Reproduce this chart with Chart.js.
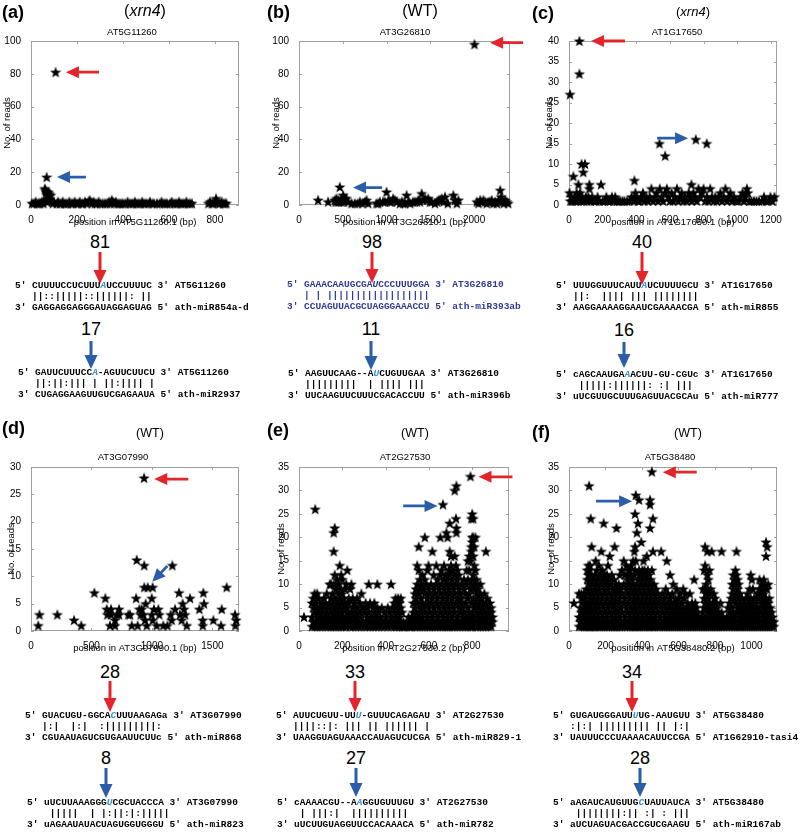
<!DOCTYPE html>
<html><head><meta charset="utf-8">
<script src="https://cdn.jsdelivr.net/npm/chart.js@4.4.1/dist/chart.umd.min.js"></script>
<style>
body{margin:0;background:#fff;}
#root{position:relative;width:800px;height:833px;overflow:hidden;font-family:"Liberation Sans",Arial,sans-serif;color:#000;}
canvas{position:absolute;}
.t{position:absolute;white-space:pre;line-height:1;}
.al{font-family:"Liberation Mono","Courier New",monospace;font-weight:bold;font-size:9.5px;will-change:transform;}
.h{color:#3d8fd6;font-style:italic;}
#arrows{position:absolute;left:0;top:0;}
</style></head>
<body><div id="root"><svg id="arrows" width="800" height="833"></svg></div>
<script>
// ---------------- DATA ----------------
// [position (bp), no. of reads]
const readsA = [[4,1],[12,1],[20,2],[27,1],[34,1],[41,1],[48,2],[54,1],[57,3],[60,10],[63,9],[66,8],[68,17],[70,6],[72,2],[75,8],[77,4],[80,7],[83,3],[86,6],[90,2],[95,1],[100,2],[107,81],[112,1],[118,2],[125,1],[131,1],[138,2],[145,1],[152,1],[160,1],[167,2],[175,1],[182,1],[190,2],[197,1],[205,1],[212,2],[220,1],[227,1],[235,2],[242,1],[250,2],[255,3],[260,2],[266,1],[272,2],[279,1],[286,1],[294,2],[302,1],[312,1],[322,1],[332,1],[340,2],[346,1],[351,3],[356,2],[362,1],[369,2],[376,1],[384,1],[392,1],[400,1],[410,1],[420,2],[428,1],[436,1],[444,1],[452,2],[460,1],[468,1],[476,1],[484,2],[492,1],[500,1],[510,1],[518,2],[528,1],[536,1],[548,1],[560,1],[568,2],[576,1],[584,1],[592,1],[604,1],[612,2],[620,1],[628,1],[636,1],[644,2],[652,1],[660,1],[668,1],[676,2],[684,1],[692,1],[700,1],[772,1],[779,2],[786,1],[793,1],[800,2],[805,4],[809,2],[815,1],[822,1],[829,2],[836,1],[843,1],[850,1]];
const readsB = [[218,3],[332,2],[408,3],[418,2],[427,4],[440,2],[447,3],[458,2],[466,11],[476,3],[485,2],[495,3],[504,6],[515,2],[523,4],[542,4],[560,2],[600,1],[637,1],[670,1],[695,2],[725,1],[752,2],[771,3],[790,1],[885,1],[905,1],[924,2],[960,2],[981,2],[1000,8],[1020,3],[1040,2],[1057,2],[1075,4],[1095,3],[1118,2],[1153,1],[1175,2],[1190,1],[1210,1],[1229,6],[1248,2],[1270,1],[1300,2],[1324,2],[1345,2],[1363,3],[1380,2],[1401,7],[1420,3],[1440,4],[1458,3],[1477,4],[1496,2],[1515,2],[1553,1],[1575,2],[1595,3],[1611,3],[1630,4],[1650,2],[1668,5],[1700,1],[1763,6],[1782,3],[1802,1],[1821,3],[2004,98],[2031,2],[2050,1],[2069,3],[2088,2],[2107,3],[2126,2],[2145,1],[2164,2],[2183,2],[2202,3],[2221,1],[2240,2],[2260,1],[2279,3],[2298,9],[2310,5],[2317,3],[2324,2],[2340,1],[2355,3],[2374,2],[2390,1]];
const readsC = [[6,27],[62,40],[62,32],[26,7],[56,5],[75,10],[95,10],[85,8],[121,5],[121,4],[190,5],[389,6],[538,15],[572,12],[754,16],[819,15],[728,5],
[3,3],[8,1],[14,2],[20,1],[32,2],[40,1],[46,3],[52,1],[58,2],[66,3],[70,1],[78,2],[88,1],[100,2],[108,1],[115,2],[128,1],[138,2],[150,1],[160,1],[170,2],[180,1],[200,1],[212,1],[222,2],[232,1],[245,1],[255,2],[268,1],[275,2],[285,1],[295,1],[305,1],[318,1],[330,1],[345,1],[360,1],[372,2],[385,1],[395,3],[400,2],[410,1],[420,1],[428,2],[440,3],[448,1],[460,2],[470,1],[480,2],[490,4],[500,1],[510,2],[520,3],[530,1],[540,4],[550,2],[560,1],[570,3],[582,4],[590,2],[600,1],[610,3],[620,1],[630,2],[642,4],[650,1],[660,2],[670,3],[680,1],[690,2],[700,1],[712,3],[720,2],[730,1],[740,3],[750,2],[760,1],[770,4],[780,2],[790,3],[800,4],[810,1],[820,2],[830,1],[840,4],[850,2],[860,1],[870,2],[880,1],[890,2],[900,3],[910,1],[920,2],[930,4],[940,1],[950,2],[960,3],[970,1],[982,2],[995,1],[1008,1],[1020,2],[1032,3],[1040,1],[1048,2],[1058,4],[1064,3],[1072,1],[1085,1],[1100,1],[1115,1],[1130,1],[1148,1],[1160,2],[1172,1],[1185,1],[1198,2],[1210,1],[1222,2]];
const readsD = [[60,1],[70,3],[218,3],[356,2],[416,1],[524,7],[615,6],[626,4],[632,3],[662,4],[662,3],[653,1],[695,2],[695,1],[709,3],[728,4],[728,3],[805,3],[819,3],[833,1],[874,13],[869,6],[882,1],[896,4],[907,3],[915,4],[929,3],[936,12],[935,28],[943,2],[948,5],[957,1],[937,8],[965,8],[998,6],[1006,8],[998,3],[1006,2],[1017,4],[1039,1],[1053,4],[1061,3],[1094,1],[1128,1],[1163,2],[1155,3],[1169,12],[1191,4],[1224,7],[1232,3],[1246,2],[1254,5],[1265,4],[1274,3],[1288,1],[1315,6],[1392,4],[1425,7],[1431,5],[1420,2],[1420,1],[1508,2],[1572,1],[1577,4],[1618,8],[1687,3],[1696,2],[1690,1]];
// [position (bp), [reads at that position ...]]
const readsE = [[23,[3]],[75,[26]],[60,[1,3,6]],[66,[2,5,7]],[72,[1,4,8]],[78,[2,6]],[84,[1,3,8,5]],[90,[2,4,7]],[96,[1,5]],[102,[3,6,2]],[108,[1,4]],[115,[2,7,5]],[122,[1,3,6]],[128,[2,4,8]],[135,[1,5,3]],[142,[2,6,10]],[148,[1,4,7,10]],[155,[3,5,8,2]],[160,[1,6,10,17,21]],[165,[2,4,7,12,22]],[170,[1,3,9,5]],[176,[2,6,11]],[182,[1,4,8,10]],[188,[3,5,7,14]],[195,[1,2,6,9,12]],[200,[3,4,8,11]],[206,[1,5,7]],[212,[2,6,9]],[218,[1,3,10]],[223,[4,5,13]],[230,[2,7,6]],[236,[1,3,9]],[242,[2,4,10]],[248,[1,5,7]],[255,[3,6]],[262,[1,2,4]],[268,[3,5,7]],[275,[1,2]],[282,[4,6]],[288,[1,3,8]],[295,[2,5]],[302,[1,4]],[308,[2,6]],[315,[1,3,5]],[322,[2,4,10]],[328,[1,6]],[335,[2,3]],[342,[1,5]],[348,[2,4,6]],[355,[1,3]],[362,[2,5,10]],[368,[1,4]],[375,[2,3]],[382,[1,5]],[388,[2]],[395,[1,4]],[402,[2,3]],[410,[1,5]],[418,[2,4]],[425,[1,3,10]],[432,[2,5]],[440,[1,4,6]],[446,[2,3,7]],[452,[1,5,6]],[458,[2,4,7]],[464,[1,3,6]],[470,[2,5,7]],[476,[1,4]],[482,[1,2]],[490,[1]],[498,[2]],[506,[1,3]],[515,[1,2]],[522,[1,3]],[528,[2,4,6]],
[535,[1,3,5,8]],[540,[2,4,7,9]],[546,[1,6,10,14]],[553,[2,3,8,13,18]],[558,[1,5,9,11]],[564,[2,4,7,10]],[570,[1,3,6,12]],[575,[2,5,9]],[581,[1,4,8,11,20]],[587,[2,6,10]],[593,[1,3,7,13]],[598,[2,5,9,14]],[604,[1,4,8]],[610,[2,6,10]],[616,[1,3,7,17]],[622,[2,5,9,12]],[628,[1,4,8]],[634,[2,6,10,14]],[640,[1,3,7,11]],[646,[2,5,9]],[665,[27]],[653,[1,4,8,12,20]],[658,[2,6,10,13]],[664,[1,3,7]],[670,[2,5,9,11,14]],[676,[1,4,8,12]],[681,[2,6,10,21]],[686,[1,3,7,11,20]],[691,[2,5,9,13]],[696,[1,4,8,12,17,23]],[702,[2,6,10,14,16]],[708,[1,3,7,11,13]],[713,[2,5,9]],[719,[1,4,8,12,16,30]],[725,[2,6,10,14,24]],[727,[31,22,21]],[732,[1,3,7,11,13]],[738,[2,5,9,12]],[744,[1,4,8]],[750,[2,6,10,7]],[756,[1,3,5]],[762,[2,4,9,11]],[768,[1,6,8]],[774,[2,3,10,13]],[780,[1,5,7,11,15]],[786,[2,4,8,13,16]],[792,[1,3,9,15,33]],[796,[2,6,10,17,18,24]],[800,[1,4,11,19,20,25]],[805,[3,7,12,16,20,24]],[810,[2,5,9,14,18]],[815,[1,6,10,13,20]],[820,[2,4,8,11]],[826,[1,3,7,9]],[832,[2,5,6]],[838,[1,4,8,10]],[844,[2,3,7]],[850,[1,5,6]],[856,[2,4,8]],[863,[1,3,17,6]],[870,[2,5,7]],[876,[1,4]],[882,[2,3,6]],[888,[1,5,4]],[894,[2,3]]];
const readsF = [[27,[6]],[55,[1,3,8]],[62,[2,5]],[68,[1,4,7,8]],[75,[2,3,6]],[82,[1,5,8]],[88,[2,4,7]],[95,[1,3,6,9]],[100,[2,5,11,13]],[106,[1,4,8,12,14]],[110,[2,6,10,13,31]],[115,[1,3,7,11,14]],[119,[2,5,9,24]],[124,[1,4,8,12,18]],[130,[2,6,10]],[136,[1,3,7,11]],[142,[2,5,9,12]],[146,[1,4,8,15]],[152,[2,6,10,13]],[158,[1,3,7,11]],[164,[2,5,9,14]],[170,[1,4,8,12]],[177,[2,6,10,17]],[183,[1,3,7,11,13]],[190,[2,5,9,23]],[196,[1,4,8,12]],[202,[2,6,10,11]],[208,[1,3,7,12]],[214,[2,5,9,14]],[220,[1,4,8,11]],[223,[16]],[228,[2,6,10]],[234,[1,3,7,12]],[240,[2,5,9]],[246,[1,4,8,11]],[250,[2,6,18]],[256,[1,3,7,10]],[260,[2,5,9,22]],[266,[1,4,8]],[272,[2,6,10]],[278,[1,3,7,12]],[284,[2,5,9]],[290,[1,4,8,13]],[300,[2,6,10,15]],[306,[1,3,7,12]],[314,[2,5,9,14]],[320,[1,4,8,11]],[326,[2,6,10,13]],[333,[1,3,7,12,13]],[340,[2,5,9,14]],[346,[1,4,8,11]],[352,[2,6,10,15]],[358,[1,3,7,12,17]],[362,[2,5,9,13,18,25]],[366,[1,4,8,29,15]],[372,[2,6,10,21]],[378,[1,3,7,11,23]],[384,[2,5,9,13,28]],[390,[1,4,8,12]],[396,[2,6,10,19]],[402,[1,3,7,11,13]],[408,[2,5,9,12,15]],[414,[1,4,8,13]],[420,[2,6,10,12]],[426,[1,3,7,11,16]],[432,[2,5,9,13]],[438,[1,4,8,12]],[444,[2,6,10,22,27,28]],[448,[1,3,7,11]],[454,[2,5,9,13,34]],[460,[1,4,8,24,17]],[466,[2,6,10]],[472,[1,3,7]],[478,[2,5,9]],
[486,[1,4,8]],[492,[2,6]],[498,[1,3,7]],[505,[2,5,17]],[512,[1,4,8]],[518,[2,6]],[524,[1,3,7]],[530,[2,5,9]],[536,[1,4,15]],[542,[2,6,8]],[548,[1,3,5]],[554,[2,7,12]],[560,[1,4,6]],[566,[2,3,8]],[572,[1,5,10]],[578,[2,4,6]],[584,[1,3,7]],[590,[2,5,9]],[596,[1,4,6]],[602,[2,3,7]],[608,[1,5,8]],[614,[2,4]],[620,[1,3,6]],[626,[2,5,9]],[632,[1,4,7]],[638,[2,3,8]],[644,[1,5]],[650,[2,4,6]],[656,[1,3]],[662,[2,5,8]],[668,[1,4]],[674,[2,3,6]],[680,[1,5]],[686,[2,4,11]],[692,[1,3,6]],[698,[2,5]],[704,[1,4]],[710,[2,3]],[716,[1]],[722,[2]],[728,[1,3]],[734,[2,4,9]],[740,[1,5,7,13]],[746,[2,6,9,14,18]],[752,[1,3,8,10]],[758,[2,5,9,12,17]],[764,[1,4,7,11]],[770,[2,6,8,13]],[776,[1,3,5,9]],[782,[2,4,17]],[788,[1,3,6]],[794,[2,5,8]],[800,[1,4,7]],[806,[2,3,6]],[812,[1,5]],[818,[2,4]],[824,[1,3]],[830,[2,6]],[836,[1,4,17]],[842,[2,3]],[848,[1]],[856,[2]],[864,[1,3]],[872,[2,5]],[880,[1,4,6]],[888,[2,3,7]],[894,[1,5,8,10]],[900,[2,4,9,12]],[906,[1,3,7,11]],[912,[2,6,10,13]],[918,[1,4,8,12,17]],[924,[2,5,9,11]],[930,[1,3,7,10]],[936,[2,6,8]],[942,[1,4,5]],[948,[2,3,7]],[954,[1,5]],[960,[2,4,6]],[966,[1,3]],[972,[2,5,7]],[978,[1,4,8]],[984,[2,3,6]],[990,[1,5,9]],[996,[2,4,7,12]],[1002,[1,3,6,11]],[1008,[2,5,9]],[1014,[1,4,7]],[1020,[2,3]],[1026,[1,5,6]],[1032,[2,4,8]],[1038,[1,3,7]],[1044,[2,5,9,11]],[1050,[1,4,8]],[1056,[2,6,10]],[1062,[1,3,7,9]],[1068,[2,5,8,11]],[1074,[1,4,6,10]],[1080,[2,3,7,16,19]],[1086,[1,5,9,18]],[1092,[2,4,6,10]],[1098,[1,3,7]],[1104,[2,5]],[1110,[1,4]],[1116,[2,3]],[1122,[1,2]]];

const geneIds = ['AT5G11260','AT3G26810','AT1G17650','AT3G07990','AT2G27530','AT5G38480'];
const transcripts = ['AT5G11260.1','AT3G26810.1','AT1G17650.1','AT3G07990.1','AT2G27530.2','AT5G38480.2'];
const genotypes = ['xrn4','WT','xrn4','WT','WT','WT'];
const panelLetters = ['a','b','c','d','e','f'];
const xMaxes = [905,2410,1237,1720,970,1140];
const yMaxes = [100,100,40,30,35,35];
// tick labels
const xTicksA=[0,200,400,600,800], xTicksB=[0,500,1000,1500,2000], xTicksC=[0,200,400,600,800,1000,1200];
const xTicksD=[0,500,1000,1500], xTicksE=[0,200,400,600,800], xTicksF=[0,200,400,600,800,1000];
const yTicks100=[0,20,40,60,80,100], yTicks40=[0,5,10,15,20,25,30,35,40], yTicks30=[0,5,10,15,20,25,30], yTicks35=[0,5,10,15,20,25,30,35];
const xTickSets=[xTicksA,xTicksB,xTicksC,xTicksD,xTicksE,xTicksF];
const yTickSets=[yTicks100,yTicks100,yTicks40,yTicks30,yTicks35,yTicks35];
// highlighted peaks: [tail x, tail y, tip x, tip y]
const redArrowsData = [[296,81,152,81],[2560,99,2183,99],[333,40,131,40],[1301,27.8,1019,27.8],[986,32.9,829,32.9],[700,33.9,514,33.9]];
const blueArrowsData = [[239,17,113,17],[949,10.6,617,10.6],[524,16.3,708,16.3],[1127,11.9,1003,9.0],[481,26.7,640,26.7],[148,27.7,346,27.7]];
const peakRed = [81,98,40,28,33,34];
const peakBlue = [17,11,16,8,27,28];

// ---------------- STYLE / LAYOUT ----------------
const RED='#e3242b', BLUE='#2c5da8';
const panelsLayout = [
 {left:0,  top:0,   w:265, h:228, padTop:41, padRight:26, yW:31, yTP:2},
 {left:265,top:0,   w:265, h:228, padTop:41, padRight:20, yW:34, yTP:6},
 {left:530,top:0,   w:270, h:228, padTop:41, padRight:23, yW:39, yTP:14},
 {left:0,  top:415, w:265, h:239, padTop:52, padRight:26, yW:31, yTP:6},
 {left:265,top:415, w:265, h:239, padTop:52, padRight:21, yW:34, yTP:11},
 {left:530,top:415, w:270, h:239, padTop:52, padRight:23, yW:39, yTP:16}
];
const allReads=[readsA,readsB,readsC,readsD,readsE,readsF];

function starImage(){
  const c=document.createElement('canvas'); c.width=12; c.height=12;
  const g=c.getContext('2d'); g.fillStyle='#000'; g.beginPath();
  for(let i=0;i<10;i++){const r=i%2?2.4:5.9; const a=-Math.PI/2+i*Math.PI/5;
    const px=6+r*Math.cos(a), py=6.5+r*Math.sin(a); if(i) g.lineTo(px,py); else g.moveTo(px,py);}
  g.closePath(); g.fill(); return c;
}
const STAR=starImage();

function drawArrow(ctx,x1,y1,x2,y2,color,shaft,headL,headW){
  const dx=x2-x1, dy=y2-y1, L=Math.hypot(dx,dy), ux=dx/L, uy=dy/L, nx=-uy, ny=ux;
  const bx=x2-ux*headL, by=y2-uy*headL;
  ctx.save(); ctx.fillStyle=color; ctx.beginPath();
  ctx.moveTo(x1+nx*shaft/2,y1+ny*shaft/2); ctx.lineTo(bx+nx*shaft/2,by+ny*shaft/2);
  ctx.lineTo(bx+nx*headW/2,by+ny*headW/2); ctx.lineTo(x2,y2);
  ctx.lineTo(bx-nx*headW/2,by-ny*headW/2); ctx.lineTo(bx-nx*shaft/2,by-ny*shaft/2);
  ctx.lineTo(x1-nx*shaft/2,y1-ny*shaft/2); ctx.closePath(); ctx.fill(); ctx.restore();
}

const framePlugin={id:'frame',
  beforeDatasetsDraw(chart){
    const {ctx,chartArea:a,scales:{x,y}}=chart;
    ctx.save(); ctx.strokeStyle='#a0a0a0'; ctx.lineWidth=1;
    ctx.strokeRect(a.left+0.5,a.top+0.5,a.right-a.left-1,a.bottom-a.top-1);
    ctx.beginPath();
    x.ticks.forEach(t=>{const p=Math.round(x.getPixelForValue(t.value))+0.5;
      ctx.moveTo(p,a.bottom);ctx.lineTo(p,a.bottom-3);ctx.moveTo(p,a.top);ctx.lineTo(p,a.top+3);});
    y.ticks.forEach(t=>{const p=Math.round(y.getPixelForValue(t.value))+0.5;
      ctx.moveTo(a.left,p);ctx.lineTo(a.left+3,p);ctx.moveTo(a.right,p);ctx.lineTo(a.right-3,p);});
    ctx.stroke(); ctx.restore();
  },
  afterDatasetsDraw(chart,args,opts){
    const {ctx,scales:{x,y}}=chart;
    (opts.arrows||[]).forEach(ar=>{
      drawArrow(ctx,x.getPixelForValue(ar.d[0]),y.getPixelForValue(ar.d[1]),
        x.getPixelForValue(ar.d[2]),y.getPixelForValue(ar.d[3]),ar.c,2.8,13,12);
    });
  }
};

const root=document.getElementById('root');
const tickFont={family:'"Liberation Sans", Arial, sans-serif',size:10};
const titleFont={family:'"Liberation Sans", Arial, sans-serif',size:9.5};

panelsLayout.forEach((L,i)=>{
  const cv=document.createElement('canvas'); cv.width=L.w; cv.height=L.h;
  cv.style.left=L.left+'px'; cv.style.top=L.top+'px'; root.appendChild(cv);
  const raw=allReads[i];
  const pts=[];
  raw.forEach(r=>{ if(Array.isArray(r[1])) r[1].forEach(v=>pts.push({x:r[0],y:v})); else pts.push({x:r[0],y:r[1]}); });
  const xt=xTickSets[i], yt=yTickSets[i];
  new Chart(cv,{type:'scatter',
    data:{datasets:[{data:pts,pointStyle:STAR,pointRadius:5,clip:false}]},
    options:{responsive:false,animation:false,events:[],
      layout:{padding:{top:L.padTop,right:L.padRight,bottom:0,left:0}},
      plugins:{legend:{display:false},tooltip:{enabled:false},
        frame:{arrows:[{d:redArrowsData[i],c:RED},{d:blueArrowsData[i],c:BLUE}]}},
      scales:{
        x:{type:'linear',min:0,max:xMaxes[i],grid:{display:false},border:{display:false},
          ticks:{font:tickFont,color:'#000',padding:1,maxRotation:0,minRotation:0,autoSkip:false,callback:v=>String(v)},
          afterBuildTicks:s=>{s.ticks=xt.map(v=>({value:v}));},
          afterFit:s=>{s.height=23;},
          title:{display:true,text:'position in '+transcripts[i]+' (bp)',font:titleFont,color:'#000',padding:{top:0,bottom:0}}},
        y:{type:'linear',min:0,max:yMaxes[i],grid:{display:false},border:{display:false},
          ticks:{font:tickFont,color:'#000',padding:2,autoSkip:false,callback:v=>String(v)},
          afterBuildTicks:s=>{s.ticks=yt.map(v=>({value:v}));},
          afterFit:s=>{s.width=L.yW;},
          title:{display:true,text:'No. of reads',font:titleFont,color:'#000',padding:{top:L.yTP,bottom:0}}}
      }
    },plugins:[framePlugin]});
});

// ---------------- TEXT ----------------
function txt(html,x,y,css,center){
  const d=document.createElement('div'); d.className='t'; d.innerHTML=html;
  d.style.cssText+=css; d.style.left=x+'px'; d.style.top=y+'px';
  d.style.transform=center?'translate(-50%,-50%)':'translate(0,-50%)';
  root.appendChild(d); return d;
}
const headPos=[
 {lx:2,ly:12,gx:145,gy:11,gs:16,tx:132,ty:32},
 {lx:267,ly:12,gx:420,gy:11,gs:16,tx:405,ty:32},
 {lx:532,ly:13,gx:693,gy:11,gs:13,tx:677,ty:32},
 {lx:2,ly:428,gx:150,gy:433,gs:12.5,tx:123,ty:457},
 {lx:267,ly:430,gx:415,gy:433,gs:12.5,tx:405,ty:457},
 {lx:532,ly:432,gx:688,gy:433,gs:12.5,tx:670,ty:457}
];
headPos.forEach((p,i)=>{
  txt('('+panelLetters[i]+')',p.lx,p.ly,'font-size:18px;font-weight:bold;',false);
  const g=genotypes[i]==='WT'?'(WT)':'(<i>'+genotypes[i]+'</i>)';
  txt(g,p.gx,p.gy,'font-size:'+p.gs+'px;',true);
  txt(geneIds[i],p.tx,p.ty,'font-size:9.5px;',true);
});

// alignments: [x, y of first line, colour, lines]
const alignments=[
 [15,286,'#000',["5' CUUUUCCUCUUU<span class=h>A</span>UCCUUUUC 3' AT5G11260","   ||::|||||::||||||: ||","3' GAGGAGGAGGGAUAGGAGUAG 5' ath-miR854a-d"]],
 [18,373,'#000',["5' GAUUCUUUCC<span class=h>A</span>-AGUUCUUCU 3' AT5G11260","   ||:||:||| | ||:|||| |","3' CUGAGGAAGUUGUCGAGAAUA 5' ath-miR2937"]],
 [287,285,'#2e3a94',["5' GAAACAAUGCGA<i>U</i>CCCUUUGGA 3' AT3G26810","   | | ||||||||||||||||||","3' CCUAGUUACGCUAGGGAAACCU 5' ath-miR393ab"]],
 [288,374,'#000',["5' AAGUUCAAG--A<span class=h>U</span>CUGUUGAA 3' AT3G26810","   |||||||||  | |||| |||","3' UUCAAGUUCUUUCGACACCUU 5' ath-miR396b"]],
 [556,286,'#000',["5' UUUGGUUUCAUU<span class=h>A</span>UCUUUUGCU 3' AT1G17650","   ||:  |||| ||| ||||||||","3' AAGGAAAAGGAAUCGAAAACGA 5' ath-miR855"]],
 [556,375,'#000',["5' cAGCAAUGA<span class=h>A</span>ACUU-GU-CGUc 3' AT1G17650","    |||||:||||||: :| |||","3' uUCGUUGCUUUGAGUUACGCAu 5' ath-miR777"]],
 [25,716,'#000',["5' GUACUGU-GGCA<span class=h>C</span>UUUAAGAGa 3' AT3G07990","   |:|  |:|  :|||||||||:","3' CGUAAUAGUCGUGAAUUCUUc 5' ath-miR868"]],
 [27,803,'#000',["5' uUCUUAAAGGG<span class=h>U</span>CGCUACCCA 3' AT3G07990","    |||||  | |:||:|:|||||","3' uAGAAUAUACUAGUGGUGGGU 5' ath-miR823"]],
 [276,716,'#000',["5' AUUCUGUU-UU<span class=h>U</span>-GUUUCAGAGAU 3' AT2G27530","   ||||::|: ||| || |||||| |","3' UAAGGUAGUAAACCAUAGUCUCGA 5' ath-miR829-1"]],
 [277,803,'#000',["5' cAAAACGU--A<span class=h>A</span>GGUGUUUGU 3' AT2G27530","    | |||:|  ||||||||||","3' uUCUUGUAGGUUCCACAAACA 5' ath-miR782"]],
 [553,716,'#000',["5' GUGAUGGGAUU<span class=h>U</span>UG-AAUGUU 3' AT5G38480","   :|:| ||||||||| || |:|","3' UAUUUCCCUAAAACAUUCCGA 5' AT1G62910-tasi4"]],
 [553,803,'#000',["5' aAGAUCAUGUUG<span class=h>C</span>UAUUAUCA 3' AT5G38480","    ||||||||:|| :| : |||","3' aUCUAGUACGACCGUCGAAGU 5' ath-miR167ab"]]
];
alignments.forEach(a=>{
  a[3].forEach((ln,k)=>{ const d=txt(ln,a[0],a[1]+k*11,'color:'+a[2]+';',false); d.classList.add('al'); });
});

// cleavage numbers and vertical arrows: [x, number y, arrow top, arrow tip]
const cleavePos=[
 [[100,242,252,284],[91,329,341,369]],
 [[372,242,252,283],[371,329,341,370]],
 [[642,242,252,285],[624,330,342,368]],
 [[110,672,681,712],[106,758,768,798]],
 [[355,672,681,712],[356,758,768,797]],
 [[632,672,681,712],[640,758,768,797]]
];
const svg=document.getElementById('arrows');
function svgArrow(x,y1,y2,color){
  const hl=14, hw=13, sw=3, by=y2-hl;
  const p=document.createElementNS('http://www.w3.org/2000/svg','polygon');
  p.setAttribute('points',[[x-sw/2,y1],[x+sw/2,y1],[x+sw/2,by],[x+hw/2,by],[x,y2],[x-hw/2,by],[x-sw/2,by]].map(q=>q.join(',')).join(' '));
  p.setAttribute('fill',color); svg.appendChild(p);
}
cleavePos.forEach((cp,i)=>{
  txt(String(peakRed[i]),cp[0][0],cp[0][1],'font-size:18px;',true);
  svgArrow(cp[0][0],cp[0][2],cp[0][3],RED);
  txt(String(peakBlue[i]),cp[1][0],cp[1][1],'font-size:18px;',true);
  svgArrow(cp[1][0],cp[1][2],cp[1][3],BLUE);
});
</script></body></html>
